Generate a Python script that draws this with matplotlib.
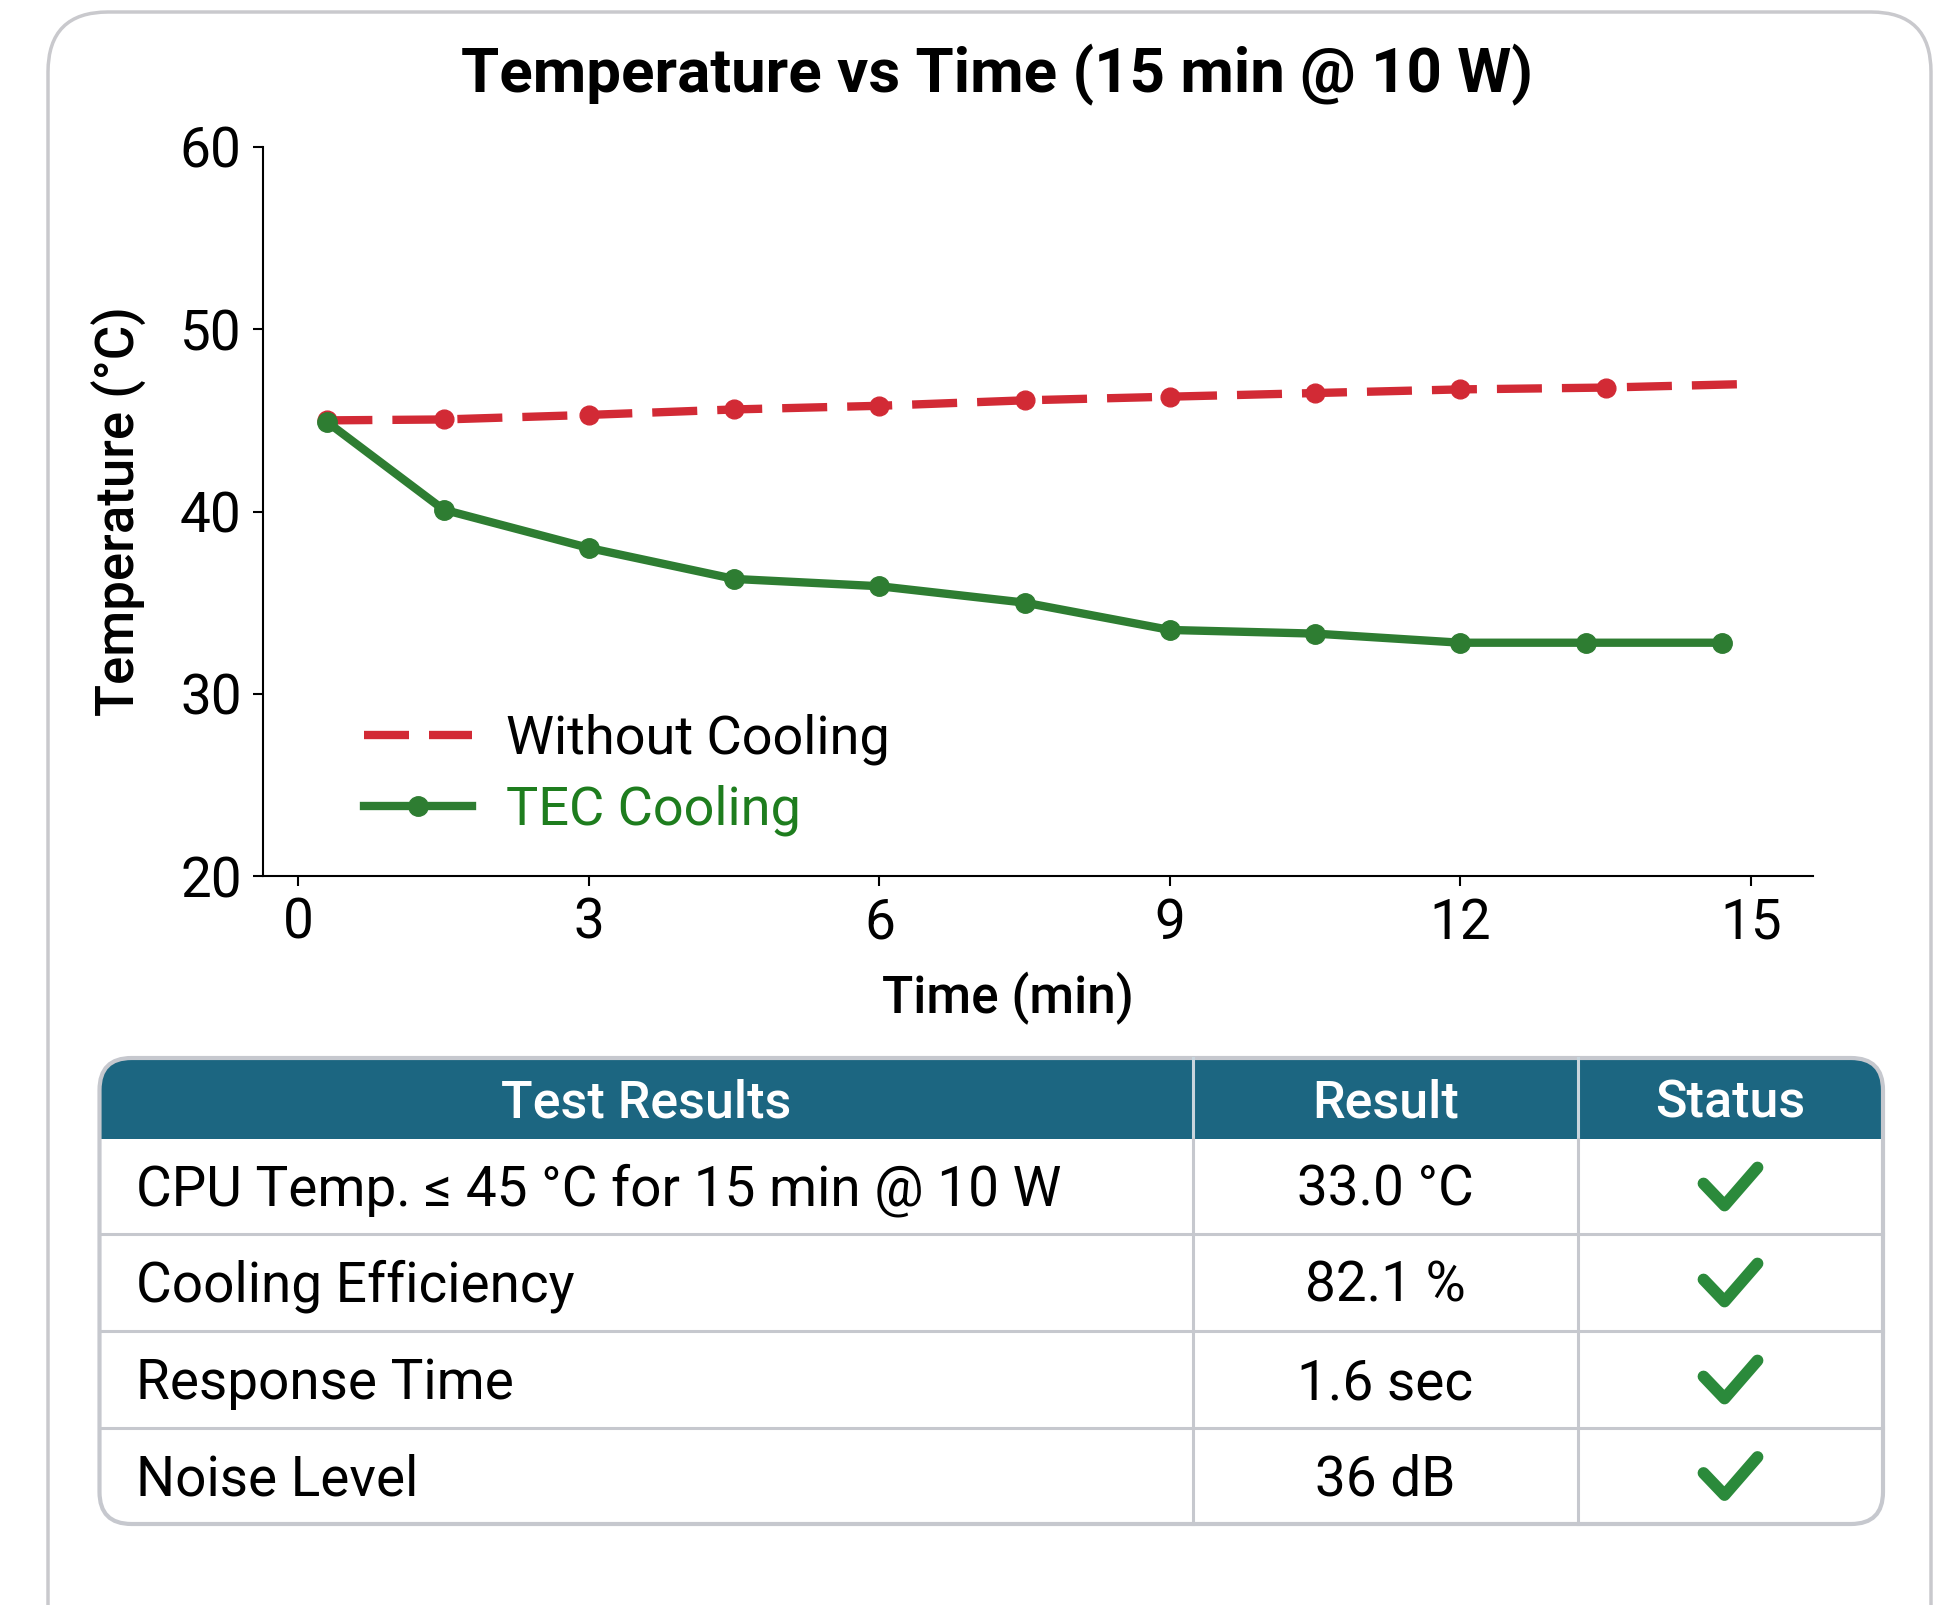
import matplotlib
import matplotlib.pyplot as plt
from matplotlib.lines import Line2D
from matplotlib.patches import FancyBboxPatch, Rectangle

matplotlib.use("Agg")
plt.rcParams["font.family"] = ["Roboto", "DejaVu Sans"]

# --- chart data ---
time_no_cool = [0.3, 1.5, 3.0, 4.5, 6.0, 7.5, 9.0, 10.5, 12.0, 13.5, 15.0]
temp_no_cool = [45.0, 45.05, 45.3, 45.6, 45.8, 46.1, 46.3, 46.5, 46.7, 46.8, 47.0]
time_tec = [0.3, 1.5, 3.0, 4.5, 6.0, 7.5, 9.0, 10.5, 12.0, 13.3, 14.7]
temp_tec = [44.9, 40.1, 38.0, 36.3, 35.9, 35.0, 33.5, 33.3, 32.8, 32.8, 32.8]
x_ticks = [0, 3, 6, 9, 12, 15]
y_ticks = [20, 30, 40, 50, 60]

# --- table data ---
table_header = ["Test Results", "Result", "Status"]
test_names = ["CPU Temp. \u2264 45 \u00b0C for 15 min @ 10 W", "Cooling Efficiency",
              "Response Time", "Noise Level"]
test_results = ["33.0 \u00b0C", "82.1 %", "1.6 sec", "36 dB"]
test_passed = [True, True, True, True]

RED = "#d22a35"
GREEN = "#2e7d32"
TEAL = "#1c6681"
GRID_GRAY = "#c6c8ce"
RED_DASH = (5.4, 2.4)

W, H = 1951, 1605
fig = plt.figure(figsize=(W / 100, H / 100), dpi=100)

# background layer in pixel coordinates
bg = fig.add_axes([0, 0, 1, 1])
bg.set_xlim(0, W)
bg.set_ylim(H, 0)
bg.axis("off")
bg.add_patch(FancyBboxPatch((48, 12), 1883, 1700, boxstyle="round,pad=0,rounding_size=60",
                            fc="white", ec="#c9c9cd", lw=2.5))

# --- line chart ---
ax = fig.add_axes([262.5 / W, 1 - 876 / H, (1813 - 262.5) / W, (876 - 147) / H])
ax.set_facecolor("none")
ax.plot(time_no_cool, temp_no_cool, color=RED, lw=6, dashes=RED_DASH, marker="o", ms=13.5,
        markevery=list(range(len(time_no_cool) - 1)), zorder=2)
tec_line, = ax.plot(time_tec, temp_tec, color=GREEN, lw=6, marker="o", ms=14, zorder=3)
ax.set_xlim(-0.37, 15.64)
ax.set_ylim(20, 60)
ax.set_xticks(x_ticks)
ax.set_yticks(y_ticks)
ax.tick_params(labelsize=39.5, length=7, width=1.5, pad=8)
for side in ("top", "right"):
    ax.spines[side].set_visible(False)
for side in ("left", "bottom"):
    ax.spines[side].set_linewidth(1.5)
ax.set_xlabel("Time (min)", fontsize=37, fontweight="medium")
ax.xaxis.set_label_coords(0.481, -0.131)
ax.set_ylabel("Temperature (\u00b0C)", fontsize=38, fontweight="medium")
ax.yaxis.set_label_coords(-0.0745, 0.5)
ax.text(0.474, 1.099, "Temperature vs Time (15 min @ 10 W)", transform=ax.transAxes,
        ha="center", va="center", fontsize=44.5, fontweight="bold")

# legend: the dashed handle has no marker
no_cool_handle = Line2D([], [], color=RED, lw=6, dashes=RED_DASH)
leg = ax.legend([no_cool_handle, tec_line], ["Without Cooling", "TEC Cooling"],
                loc="lower left", bbox_to_anchor=(0.034, -0.012), frameon=False, fontsize=39,
                handlelength=2.0, handletextpad=0.62, labelspacing=0.36, numpoints=1)
leg.get_texts()[1].set_color("#1e7d1e")

# --- results table ---
col_edges = [99.5, 1193, 1578, 1883]
row_edges = [1058, 1139, 1234, 1331, 1428, 1524]
frame = FancyBboxPatch((col_edges[0], row_edges[0]), col_edges[-1] - col_edges[0],
                       row_edges[-1] - row_edges[0], boxstyle="round,pad=0,rounding_size=32",
                       fc="white", ec="none")
bg.add_patch(frame)
header = Rectangle((col_edges[0], row_edges[0]), col_edges[-1] - col_edges[0],
                   row_edges[1] - row_edges[0], fc=TEAL, ec="none")
bg.add_patch(header)
header.set_clip_path(frame)

for x in col_edges[1:-1]:
    bg.plot([x, x], [row_edges[0], row_edges[1]], color="#c9d5dd", lw=2.2)
    bg.plot([x, x], [row_edges[1], row_edges[-1]], color=GRID_GRAY, lw=2.2)
for y in row_edges[2:-1]:
    bg.plot([col_edges[0], col_edges[-1]], [y, y], color=GRID_GRAY, lw=2.2)
bg.add_patch(FancyBboxPatch((col_edges[0], row_edges[0]), col_edges[-1] - col_edges[0],
                            row_edges[-1] - row_edges[0], boxstyle="round,pad=0,rounding_size=32",
                            fc="none", ec=GRID_GRAY, lw=3))

head_y = (row_edges[0] + row_edges[1]) / 2 + 5
for i, label in enumerate(table_header):
    cx = (col_edges[i] + col_edges[i + 1]) / 2
    bg.text(cx, head_y, label, ha="center", va="center", color="white",
            fontsize=37.5, fontweight="medium")

# check mark shape, offsets in pixels from the cell centre
check_dx = [-27, -6, 27]
check_dy = [-3, 19, -19]
for r, (name, res, ok) in enumerate(zip(test_names, test_results, test_passed)):
    cy = (row_edges[r + 1] + row_edges[r + 2]) / 2
    bg.text(col_edges[0] + 37, cy + 4, name, ha="left", va="center", fontsize=39.5)
    bg.text((col_edges[1] + col_edges[2]) / 2, cy + 4, res, ha="center", va="center",
            fontsize=39.5)
    if ok:
        cx = (col_edges[2] + col_edges[3]) / 2
        bg.plot([cx + d for d in check_dx], [cy + d for d in check_dy], color="#2b8a3b",
                lw=8.5, solid_capstyle="round", solid_joinstyle="round")

fig.savefig("out.png", dpi=100)
